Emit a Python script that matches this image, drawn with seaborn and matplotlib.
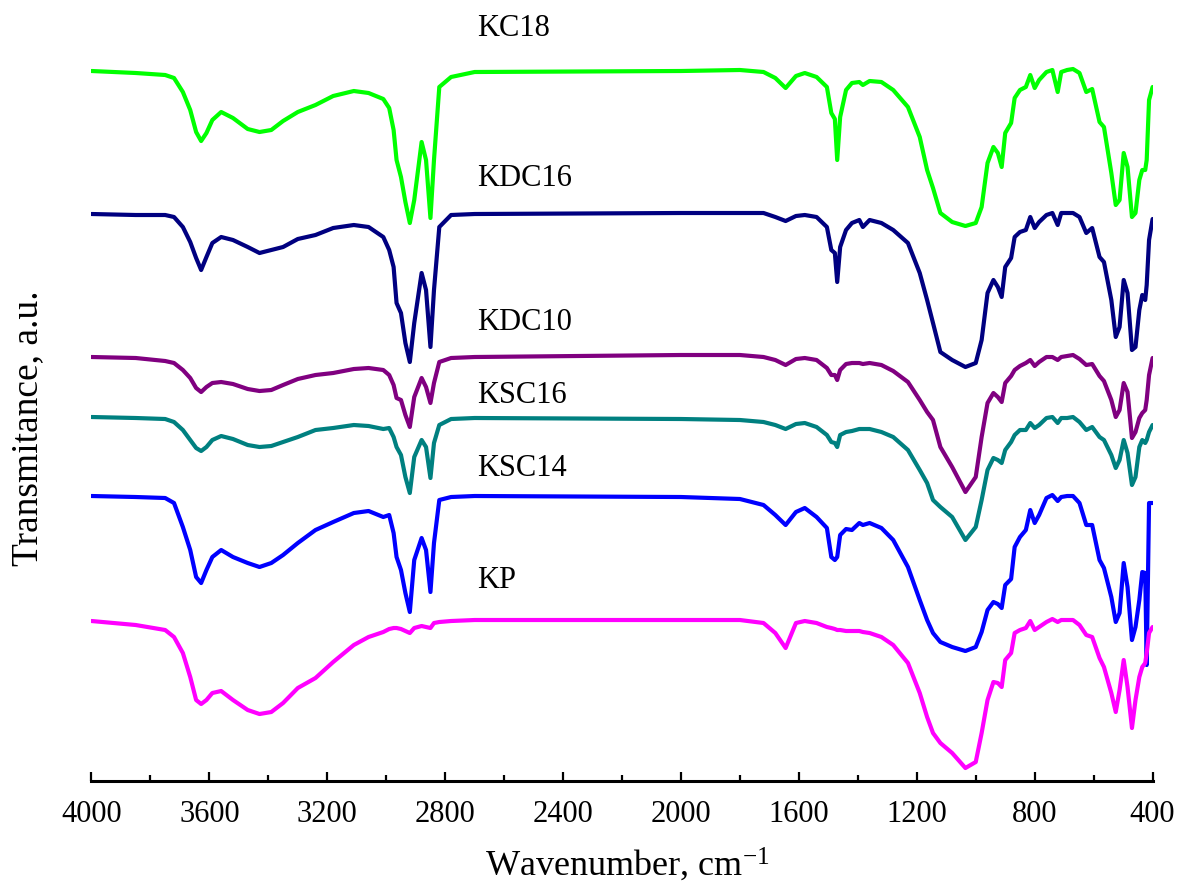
import matplotlib
matplotlib.use("Agg")
import matplotlib.pyplot as plt
from matplotlib.ticker import MultipleLocator
import numpy as np
import pandas as pd
import seaborn as sns

# Wavenumber grid (cm-1) shared by all spectra
wavenumber = [4000, 3850, 3750, 3720, 3690, 3665, 3645, 3628, 3610, 3590,
              3560, 3520, 3470, 3430, 3390, 3350, 3300, 3240, 3180, 3110,
              3060, 3010, 2990, 2975, 2965, 2950, 2935, 2920, 2905, 2880,
              2865, 2850, 2838, 2820, 2780, 2700, 2000, 1800, 1720, 1680,
              1645, 1610, 1580, 1540, 1505, 1490, 1478, 1470, 1460, 1440,
              1420, 1395, 1383, 1360, 1320, 1280, 1230, 1190, 1165, 1145,
              1120, 1080, 1035, 1000, 980, 960, 940, 925, 912, 900,
              880, 868, 850, 830, 815, 800, 785, 760, 740, 722,
              710, 690, 670, 648, 625, 605, 580, 565, 540, 525,
              512, 498, 485, 470, 458, 445, 435, 425, 420, 412, 400]

# Transmittance (a.u., stacked with offsets)
kc18 = [71.0, 70.8, 70.6, 70.3, 68.9, 67.1, 64.9, 64.0, 64.8, 66.1,
        66.9, 66.3, 65.2, 64.9, 65.1, 66.0, 66.9, 67.6, 68.5, 69.0,
        68.8, 68.2, 67.3, 65.1, 62.1, 60.4, 57.9, 55.8, 58.1, 63.9,
        62.1, 56.3, 62.1, 69.4, 70.4, 70.9, 71.0, 71.1, 70.9, 70.3,
        69.3, 70.5, 70.8, 70.4, 69.4, 66.8, 66.2, 62.1, 66.4, 69.1,
        69.8, 69.9, 69.6, 70.0, 69.9, 69.1, 67.4, 64.4, 61.1, 59.3,
        56.8, 55.9, 55.5, 55.8, 57.4, 61.8, 63.4, 62.8, 61.4, 64.8,
        65.8, 68.3, 69.1, 69.4, 70.6, 69.3, 70.1, 70.9, 71.1, 68.9,
        70.9, 71.1, 71.2, 70.8, 68.9, 69.2, 65.9, 65.4, 60.8, 57.6,
        58.1, 62.8, 61.4, 56.4, 56.8, 60.1, 61.1, 61.1, 62.1, 68.1, 69.4]

kdc16 = [56.7, 56.6, 56.6, 56.4, 55.4, 53.9, 52.3, 51.1, 52.4, 53.8,
         54.4, 54.1, 53.4, 52.8, 53.1, 53.4, 54.2, 54.6, 55.3, 55.6,
         55.4, 54.4, 53.1, 51.4, 47.8, 46.8, 43.8, 41.9, 45.8, 50.8,
         49.1, 43.4, 49.1, 55.4, 56.6, 56.7, 56.8, 56.8, 56.8, 56.4,
         56.0, 56.5, 56.6, 56.4, 55.4, 53.1, 52.8, 49.9, 53.4, 55.1,
         55.8, 56.1, 55.4, 56.1, 55.8, 55.1, 53.8, 50.8, 48.1, 45.8,
         42.9, 42.1, 41.4, 41.8, 44.1, 48.8, 50.1, 49.4, 48.4, 51.4,
         52.3, 54.4, 54.9, 55.1, 56.4, 55.3, 55.9, 56.6, 56.8, 55.6,
         56.8, 56.8, 56.8, 56.4, 54.8, 55.3, 52.4, 51.9, 48.1, 44.4,
         45.4, 50.1, 48.8, 43.1, 43.4, 47.1, 48.6, 48.1, 49.6, 54.1, 56.2]

kdc10 = [42.4, 42.3, 42.0, 41.8, 41.1, 40.3, 39.3, 38.9, 39.4, 39.8,
         39.9, 39.7, 39.2, 39.0, 39.1, 39.6, 40.2, 40.6, 40.8, 41.2,
         41.3, 41.1, 40.6, 39.6, 38.3, 38.1, 36.6, 35.4, 38.4, 40.3,
         39.4, 37.8, 39.8, 41.9, 42.3, 42.4, 42.6, 42.6, 42.4, 42.1,
         41.6, 42.2, 42.3, 42.1, 41.3, 40.6, 40.6, 40.1, 41.1, 41.7,
         41.8, 41.8, 41.7, 41.8, 41.6, 41.0, 39.9, 38.1, 36.9, 36.1,
         33.4, 31.4, 28.9, 30.4, 34.4, 37.8, 38.8, 38.4, 37.9, 39.8,
         40.5, 41.1, 41.5, 41.8, 42.1, 41.5, 41.9, 42.4, 42.4, 42.1,
         42.4, 42.5, 42.6, 42.2, 41.6, 41.7, 40.5, 40.0, 38.1, 36.4,
         37.1, 39.8, 38.9, 34.3, 34.9, 36.3, 36.8, 37.1, 38.1, 40.6, 42.3]

ksc16 = [36.4, 36.3, 36.2, 35.9, 35.1, 34.1, 33.3, 33.0, 33.4, 34.1,
         34.5, 34.2, 33.6, 33.4, 33.5, 33.9, 34.4, 35.1, 35.3, 35.6,
         35.5, 35.2, 35.3, 34.4, 33.4, 32.6, 30.4, 28.8, 32.4, 34.1,
         33.4, 30.3, 33.8, 35.6, 36.2, 36.3, 36.2, 36.1, 35.9, 35.6,
         35.2, 35.7, 35.8, 35.4, 34.6, 33.9, 33.8, 33.4, 34.6, 34.9,
         35.0, 35.2, 35.2, 35.2, 34.9, 34.4, 33.1, 31.1, 29.8, 28.1,
         27.4, 26.4, 24.1, 25.4, 28.1, 31.1, 32.3, 32.1, 31.8, 33.1,
         33.9, 34.6, 35.1, 35.1, 35.8, 35.3, 35.6, 36.3, 36.4, 35.8,
         36.3, 36.3, 36.4, 35.9, 35.1, 35.4, 34.4, 34.1, 32.6, 31.3,
         32.1, 34.1, 32.8, 29.6, 30.4, 33.4, 34.1, 33.8, 34.1, 34.9, 35.6]

ksc14 = [28.5, 28.4, 28.3, 27.8, 25.4, 23.1, 20.4, 19.8, 21.1, 22.4,
         23.1, 22.4, 21.8, 21.4, 21.8, 22.6, 23.8, 25.1, 25.9, 26.8,
         27.0, 26.4, 26.6, 24.8, 22.4, 21.1, 18.8, 16.9, 22.1, 24.3,
         23.1, 18.9, 23.8, 28.1, 28.4, 28.5, 28.4, 28.2, 27.6, 26.6,
         25.6, 26.9, 27.3, 26.4, 25.3, 22.4, 22.1, 22.4, 24.6, 25.2,
         25.1, 25.8, 25.6, 25.8, 25.3, 24.1, 21.4, 18.1, 16.1, 14.8,
         13.9, 13.4, 13.0, 13.4, 14.9, 17.1, 17.9, 17.7, 17.3, 19.6,
         20.2, 23.4, 24.4, 25.1, 27.1, 25.8, 26.6, 28.3, 28.6, 28.0,
         28.4, 28.5, 28.5, 27.8, 25.6, 25.6, 22.1, 21.3, 18.4, 15.9,
         16.8, 21.8, 19.4, 14.1, 15.4, 18.1, 20.9, 20.8, 11.6, 27.8, 27.8]

kp = [16.0, 15.6, 15.1, 14.4, 12.8, 10.4, 8.1, 7.7, 8.1, 8.8,
      9.0, 8.1, 7.1, 6.7, 6.9, 7.8, 9.3, 10.3, 11.9, 13.6,
      14.4, 14.9, 15.2, 15.3, 15.3, 15.2, 15.0, 14.8, 15.3, 15.5,
      15.4, 15.3, 15.8, 15.9, 16.0, 16.1, 16.1, 16.1, 15.8, 14.8,
      13.3, 15.8, 16.0, 15.8, 15.4, 15.3, 15.2, 15.1, 15.1, 15.0,
      15.0, 15.0, 14.9, 14.8, 14.4, 13.6, 11.8, 8.8, 6.4, 4.8,
      3.8, 2.8, 1.3, 1.9, 4.8, 8.1, 9.9, 9.8, 9.4, 12.1,
      12.8, 14.8, 15.1, 15.3, 16.0, 15.1, 15.4, 15.9, 16.2, 15.9,
      16.1, 16.1, 16.1, 15.6, 14.6, 14.4, 12.3, 11.4, 8.8, 6.9,
      9.1, 12.1, 9.4, 5.3, 8.1, 10.4, 11.4, 11.8, 12.8, 14.8, 15.4]

samples = ["KC18", "KDC16", "KDC10", "KSC16", "KSC14", "KP"]
colors = ["#00ff00", "#000080", "#800080", "#008080", "#0000ff", "#ff00ff"]
label_heights = [75.3, 60.3, 45.9, 38.6, 31.3, 20.1]
label_wavenumber = 2690

spectra = pd.concat(
    [pd.DataFrame({"wavenumber": wavenumber, "transmittance": vals, "sample": name})
     for name, vals in zip(samples, [kc18, kdc16, kdc10, ksc16, ksc14, kp])],
    ignore_index=True)

sns.set_theme(style="white")
plt.rcParams["font.family"] = ["Liberation Serif", "DejaVu Serif"]
plt.rcParams["mathtext.default"] = "regular"

fig = plt.figure(figsize=(11.79, 8.83), dpi=100)
ax = fig.add_axes([0.0776, 0.1155, 0.9, 0.8845])

sns.lineplot(data=spectra, x="wavenumber", y="transmittance", hue="sample",
             hue_order=samples, palette=colors, estimator=None, sort=False,
             linewidth=3.0, legend=False, ax=ax)
for line in ax.lines:
    line.set_solid_joinstyle("round")
    line.set_solid_capstyle("round")

for name, h in zip(samples, label_heights):
    ax.text(label_wavenumber, h, name, fontsize=22, ha="left", va="center",
            color="black", clip_on=False)

ax.set_xlim(4000, 400)
ax.set_ylim(0, 78.1)
ax.set_xticks(range(4000, 399, -400))
ax.xaxis.set_minor_locator(MultipleLocator(200))
ax.set_yticks([])

for side in ["left", "top", "right"]:
    ax.spines[side].set_visible(False)
ax.spines["bottom"].set_linewidth(2.2)
ax.spines["bottom"].set_color("black")

ax.tick_params(axis="x", which="major", bottom=True, direction="in",
               length=6.5, width=1.6, pad=14, labelsize=22, colors="black")
ax.tick_params(axis="x", which="minor", bottom=True, direction="in",
               length=4.3, width=1.6, colors="black")

ax.set_xlabel("Wavenumber, cm$^{-1}$", fontsize=26, color="black")
ax.set_ylabel("Transmitance, a.u.", fontsize=27, color="black")
ax.xaxis.set_label_coords(0.505, -0.083)
ax.yaxis.set_label_coords(-0.044, 0.452)

fig.savefig("out.png", dpi=100, facecolor="white")
